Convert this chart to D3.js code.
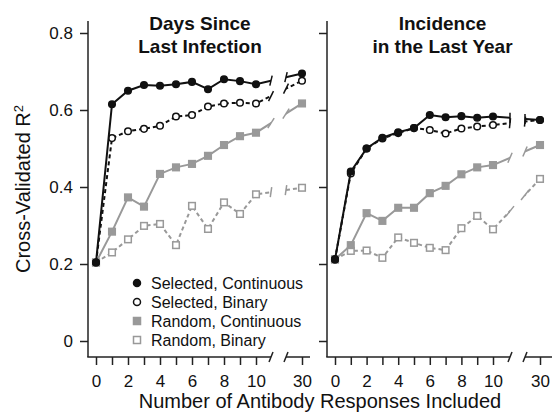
<!DOCTYPE html>
<html>
<head>
<meta charset="utf-8">
<script src="https://cdn.jsdelivr.net/npm/d3@7"></script>
<style>
  body { margin: 0; background: #fff; }
  svg text { font-family: "Liberation Sans", Arial, Helvetica, sans-serif; fill: #111; }
</style>
</head>
<body>
<div id="chart"></div>
<script>
// number of antibody responses included (x values)
var counts = [0, 1, 2, 3, 4, 5, 6, 7, 8, 9, 10, 30];
var xTickValues = [0, 1, 2, 3, 4, 5, 6, 7, 8, 9, 10, 30];
var xTickLabels = [0, 2, 4, 6, 8, 10, 30];
var yTicks = [0, 0.2, 0.4, 0.6, 0.8];
var seriesNames = ["Selected, Continuous", "Selected, Binary", "Random, Continuous", "Random, Binary"];
var panelTitles = [["Days Since", "Last Infection"], ["Incidence", "in the Last Year"]];

// Days Since Last Infection
var daysSelCont = [0.204, 0.615, 0.650, 0.665, 0.663, 0.667, 0.673, 0.654, 0.680, 0.675, 0.667, 0.695];
var daysSelBin  = [0.204, 0.527, 0.545, 0.551, 0.559, 0.583, 0.587, 0.609, 0.617, 0.619, 0.617, 0.676];
var daysRndCont = [0.204, 0.284, 0.373, 0.349, 0.434, 0.451, 0.460, 0.481, 0.509, 0.532, 0.541, 0.617];
var daysRndBin  = [0.204, 0.230, 0.264, 0.299, 0.304, 0.249, 0.351, 0.291, 0.360, 0.330, 0.381, 0.398];

// Incidence in the Last Year
var incSelCont = [0.212, 0.440, 0.500, 0.528, 0.542, 0.553, 0.587, 0.581, 0.584, 0.580, 0.583, 0.574];
var incSelBin  = [0.212, 0.435, 0.500, 0.526, 0.540, 0.553, 0.548, 0.539, 0.552, 0.557, 0.561, 0.574];
var incRndCont = [0.212, 0.249, 0.332, 0.312, 0.346, 0.346, 0.384, 0.403, 0.433, 0.451, 0.457, 0.509];
var incRndBin  = [0.212, 0.234, 0.235, 0.216, 0.269, 0.255, 0.242, 0.236, 0.293, 0.325, 0.290, 0.421];

var svgWidth = 552;
var svgHeight = 413;

var styles = [
  { color: "#111", dash: null,  shape: "circle", fill: "#111" },
  { color: "#111", dash: "4,3", shape: "circle", fill: "#fff" },
  { color: "#999", dash: null,  shape: "square", fill: "#999" },
  { color: "#999", dash: "4,3", shape: "square", fill: "#fff" }
];

var panels = [
  { title: panelTitles[0], data: [daysSelCont, daysSelBin, daysRndCont, daysRndBin],
    axisX: 88, range: [96, 256, 302], gap: [271, 286], end: 310, labels: true },
  { title: panelTitles[1], data: [incSelCont, incSelBin, incRndCont, incRndBin],
    axisX: 327, range: [335, 493, 540], gap: [510, 525], end: 556, labels: false }
];

var axisTop = 21;
var axisBottom = 357;

var svg = d3.select("#chart")
  .append("svg")
  .attr("width", svgWidth)
  .attr("height", svgHeight);

var yScale = d3.scaleLinear()
  .domain([0, 0.8])
  .range([341, 33]);

var defs = svg.append("defs");

// little break mark; tilt follows how steeply the line rises
function slash(g, x, y, color, width, tilt) {
  var dx = tilt === undefined ? 2 : tilt;
  g.append("line")
    .attr("x1", x - dx).attr("y1", y + 5)
    .attr("x2", x + dx).attr("y2", y - 5)
    .attr("stroke", color)
    .attr("stroke-width", width);
}

panels.forEach(function(p, pi) {
  var g = svg.append("g");

  // piecewise scale: 0..10 then a broken stretch up to 30
  var xScale = d3.scaleLinear()
    .domain([0, 10, 30])
    .range(p.range);

  // clip lines so the gap stays empty
  var clip = defs.append("clipPath").attr("id", "clip" + pi);
  clip.append("rect")
    .attr("x", p.axisX).attr("y", 0)
    .attr("width", p.gap[0] - p.axisX).attr("height", svgHeight);
  clip.append("rect")
    .attr("x", p.gap[1]).attr("y", 0)
    .attr("width", svgWidth - p.gap[1]).attr("height", svgHeight);

  // y axis
  var leftAxis = d3.axisLeft(yScale)
    .tickValues(yTicks)
    .tickSize(8)
    .tickPadding(7)
    .tickFormat(p.labels ? d3.format(".1~f") : "");
  var yAxisG = g.append("g")
    .attr("transform", `translate(${p.axisX},0)`)
    .call(leftAxis);
  yAxisG.select(".domain").remove();
  yAxisG.selectAll("line").attr("stroke", "#222").attr("stroke-width", 1.5);
  yAxisG.selectAll("text").attr("font-size", "17px").attr("fill", "#111");
  g.append("line")
    .attr("x1", p.axisX).attr("y1", axisTop)
    .attr("x2", p.axisX).attr("y2", axisBottom)
    .attr("stroke", "#222").attr("stroke-width", 1.5);

  // x axis
  var bottomAxis = d3.axisBottom(xScale)
    .tickValues(xTickValues)
    .tickSize(8)
    .tickPadding(10)
    .tickFormat(function(d) { return xTickLabels.indexOf(d) >= 0 ? d : ""; });
  var xAxisG = g.append("g")
    .attr("transform", `translate(0,${axisBottom})`)
    .call(bottomAxis);
  xAxisG.select(".domain").remove();
  xAxisG.selectAll("line").attr("stroke", "#222").attr("stroke-width", 1.5);
  xAxisG.selectAll("text").attr("font-size", "17px").attr("fill", "#111");
  g.append("line")
    .attr("x1", p.axisX - 0.75).attr("y1", axisBottom)
    .attr("x2", p.gap[0]).attr("y2", axisBottom)
    .attr("stroke", "#222").attr("stroke-width", 1.5);
  g.append("line")
    .attr("x1", p.gap[1]).attr("y1", axisBottom)
    .attr("x2", p.end).attr("y2", axisBottom)
    .attr("stroke", "#222").attr("stroke-width", 1.5);
  slash(g, p.gap[0], axisBottom, "#222", 1.5);
  slash(g, p.gap[1], axisBottom, "#222", 1.5);

  // panel title
  var title = g.append("text")
    .attr("x", (p.axisX + p.end) / 2 + 1)
    .attr("y", 30)
    .attr("text-anchor", "middle")
    .attr("font-size", "19px")
    .attr("font-weight", "bold");
  title.append("tspan").attr("x", (p.axisX + p.end) / 2 + 1).text(p.title[0]);
  title.append("tspan").attr("x", (p.axisX + p.end) / 2 + 1).attr("dy", 23).text(p.title[1]);

  var line = d3.line()
    .x(function(d, i) { return xScale(counts[i]); })
    .y(function(d) { return yScale(d); });

  // draw random series first so selected ones sit on top
  [3, 2, 1, 0].forEach(function(si) {
    var vals = p.data[si];
    var st = styles[si];
    var sg = g.append("g");

    sg.append("path")
      .datum(vals)
      .attr("d", line)
      .attr("fill", "none")
      .attr("stroke", st.color)
      .attr("stroke-width", 2)
      .attr("stroke-dasharray", st.dash)
      .attr("clip-path", `url(#clip${pi})`);

    // break marks where the line enters / leaves the gap
    var rise = (yScale(vals[10]) - yScale(vals[11])) / (xScale(30) - xScale(10));
    var tilt = Math.max(0, Math.min(4, rise * 5));
    p.gap.forEach(function(gx) {
      var t = (xScale.invert(gx) - 10) / 20;
      var v = vals[10] + (vals[11] - vals[10]) * t;
      slash(sg, gx, yScale(v), st.color, 1.5, tilt);
    });

    if (st.shape === "circle") {
      sg.selectAll("circle")
        .data(vals)
        .enter()
        .append("circle")
        .attr("cx", function(d, i) { return xScale(counts[i]); })
        .attr("cy", function(d) { return yScale(d); })
        .attr("r", 3.3)
        .attr("fill", st.fill)
        .attr("stroke", st.color)
        .attr("stroke-width", 1.5);
    } else {
      sg.selectAll("rect")
        .data(vals)
        .enter()
        .append("rect")
        .attr("x", function(d, i) { return xScale(counts[i]) - 3.3; })
        .attr("y", function(d) { return yScale(d) - 3.3; })
        .attr("width", 6.6)
        .attr("height", 6.6)
        .attr("fill", st.fill)
        .attr("stroke", st.color)
        .attr("stroke-width", 1.5);
    }
  });

  // legend lives in the left panel
  if (pi === 0) {
    var legend = g.append("g");
    seriesNames.forEach(function(name, i) {
      var st = styles[i];
      var ly = 283 + i * 19;
      if (st.shape === "circle") {
        legend.append("circle")
          .attr("cx", 137).attr("cy", ly).attr("r", 3.5)
          .attr("fill", st.fill).attr("stroke", st.color).attr("stroke-width", 1.5);
      } else {
        legend.append("rect")
          .attr("x", 133.5).attr("y", ly - 3.5).attr("width", 7).attr("height", 7)
          .attr("fill", st.fill).attr("stroke", st.color).attr("stroke-width", 1.5);
      }
      legend.append("text")
        .attr("x", 151)
        .attr("y", ly)
        .attr("dy", "0.35em")
        .attr("font-size", "16px")
        .text(name);
    });
  }
});

// axis titles
svg.append("text")
  .attr("x", 320)
  .attr("y", 408)
  .attr("text-anchor", "middle")
  .attr("font-size", "20px")
  .text("Number of Antibody Responses Included");

var yTitle = svg.append("text")
  .attr("transform", "translate(30,189) rotate(-90)")
  .attr("text-anchor", "middle")
  .attr("font-size", "20px");
yTitle.append("tspan").text("Cross-Validated R");
yTitle.append("tspan").attr("dy", -7).attr("font-size", "13px").text("2");
</script>
</body>
</html>
